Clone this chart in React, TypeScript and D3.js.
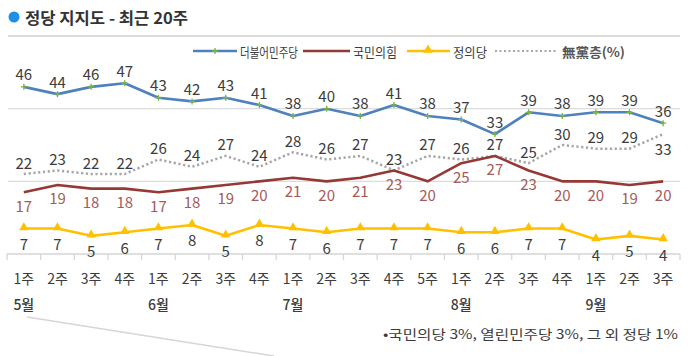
import React from "react";
import * as d3 from "d3";

const weeks = ["1주","2주","3주","4주","1주","2주","3주","4주","1주","2주","3주","4주","5주","1주","2주","3주","4주","1주","2주","3주"];
const monthLabels = ["5월", "6월", "7월", "8월", "9월"];
const monthStarts = [0, 4, 8, 13, 17];

const minjoo = [46,44,46,47,43,42,43,41,38,40,38,41,38,37,33,39,38,39,39,36];
const ppp = [17,19,18,18,17,18,19,20,21,20,21,23,20,25,27,23,20,20,19,20];
const justice = [7,7,5,6,7,8,5,8,7,6,7,7,7,6,6,7,7,4,5,4];
const independent = [22,23,22,22,26,24,27,24,28,26,27,23,27,26,27,25,30,29,29,33];

const gridValues = [20, 40, 60];
const seriesNames = ["더불어민주당", "국민의힘", "정의당", "無黨층(%)"];
const title = "정당 지지도 - 최근 20주";
const footnote = "•국민의당 3%, 열린민주당 3%, 그 외 정당 1%";

const FONT = "'Noto Sans CJK KR', 'Noto Sans', sans-serif";
const TXT = "#3c3c3c";
const BLUE = "#4f81bd";
const RED = "#963836";
const YEL = "#ffc000";
const GRAY = "#a6a6a6";
const GREEN = "#7cb342";

export default function App() {
  const W = 700, H = 356;
  const x = d3.scaleBand<number>().domain(d3.range(weeks.length)).range([7, 680]).padding(0);
  const cx = (i: number) => (x(i) as number) + x.bandwidth() / 2;
  const y = d3.scaleLinear().domain([0, 60]).range([254, 36]);
  const line = (vals: number[]) => d3.line<number>().x((_, i) => cx(i)).y((v) => y(v))(vals) as string;

  const tri = d3.symbol().type(d3.symbolTriangle).size(38)() as string;

  return (
    <svg width={W} height={H} style={{ position: "absolute", left: 0, top: 0, fontFamily: FONT }}>
      <rect width={W} height={H} fill="#fff" />
      {/* title */}
      <circle cx={14} cy={17} r={5.5} fill="#1e90e8" />
      <text x={25} y={17} dominantBaseline="central" fontSize={15.5} fontWeight="bold" fill="#333" textLength={163} lengthAdjust="spacingAndGlyphs">{title}</text>

      {/* gridlines */}
      {gridValues.map((g) => (
        <line key={g} x1={8} x2={680} y1={y(g)} y2={y(g)} stroke="#dcdcdc" strokeWidth={g === 60 ? 2 : 1.3} />
      ))}
      {/* axis */}
      <line x1={7} x2={680} y1={y(0)} y2={y(0)} stroke="#d4d4d4" strokeWidth={1.3} />
      {d3.range(weeks.length + 1).map((i) => {
        const xx = i < weeks.length ? (x(i) as number) : 680;
        return <line key={i} x1={xx} x2={xx} y1={y(0)} y2={y(0) + 6} stroke="#d4d4d4" strokeWidth={1.2} />;
      })}
      {weeks.map((w, i) => (
        <text key={i} x={cx(i)} y={278} textAnchor="middle" dominantBaseline="central" fontSize={14} fill={TXT}>{w}</text>
      ))}
      {monthLabels.map((m, k) => (
        <text key={m} x={cx(monthStarts[k])} y={304} textAnchor="middle" dominantBaseline="central" fontSize={14} fontWeight={500} fill={TXT}>{m}</text>
      ))}
      <line x1={27} y1={317} x2={274} y2={356} stroke="#d6d6d6" strokeWidth={1.5} />

      {/* legend */}
      <g fontSize={13} fill={TXT}>
        <line x1={193} x2={237} y1={51} y2={51} stroke={BLUE} strokeWidth={2.5} />
        <path d="M212,51h6M215,48v6" stroke={GREEN} strokeWidth={1.3} />
        <text x={240} y={51} dominantBaseline="central" textLength={58} lengthAdjust="spacingAndGlyphs">{seriesNames[0]}</text>
        <line x1={303} x2={350} y1={51} y2={51} stroke={RED} strokeWidth={2.5} />
        <text x={353} y={51} dominantBaseline="central" textLength={44} lengthAdjust="spacingAndGlyphs">{seriesNames[1]}</text>
        <line x1={407} x2={450} y1={51} y2={51} stroke={YEL} strokeWidth={2.5} />
        <path d={tri} transform="translate(428,50)" fill={YEL} />
        <text x={453} y={51} dominantBaseline="central" textLength={34} lengthAdjust="spacingAndGlyphs">{seriesNames[2]}</text>
        <line x1={495} x2={557} y1={51} y2={51} stroke={GRAY} strokeWidth={2} strokeDasharray="2 2.5" />
        <text x={562} y={51} dominantBaseline="central" fontWeight="bold" fill="#555" textLength={63} lengthAdjust="spacingAndGlyphs">{seriesNames[3]}</text>
      </g>

      {/* lines */}
      <path d={line(independent)} fill="none" stroke={GRAY} strokeWidth={2.5} strokeDasharray="2.2 2.6" />
      <path d={line(ppp)} fill="none" stroke={RED} strokeWidth={2.6} strokeLinejoin="round" />
      <path d={line(minjoo)} fill="none" stroke={BLUE} strokeWidth={2.6} strokeLinejoin="round" />
      <path d={line(justice)} fill="none" stroke={YEL} strokeWidth={2.6} strokeLinejoin="round" />

      {/* markers */}
      {minjoo.map((v, i) => (
        <path key={"m" + i} d={`M${cx(i) - 3},${y(v)}h6M${cx(i)},${y(v) - 3}v6`} stroke={GREEN} strokeWidth={1.3} />
      ))}
      {justice.map((v, i) => (
        <path key={"j" + i} d={tri} transform={`translate(${cx(i)},${y(v) - 1})`} fill={YEL} />
      ))}

      {/* labels */}
      <g fontSize={15} textAnchor="middle">
        {minjoo.map((v, i) => (
          <text key={"lm" + i} x={cx(i)} y={y(v) - 13} dominantBaseline="central" fill={TXT}>{v}</text>
        ))}
        {independent.map((v, i) => (
          <text key={"li" + i} x={cx(i)} y={i === independent.length - 1 ? y(v) + 14 : y(v) - 12} dominantBaseline="central" fill={TXT}>{v}</text>
        ))}
        {ppp.map((v, i) => (
          <text key={"lp" + i} x={cx(i)} y={y(v) + 13} dominantBaseline="central" fill="#a65a5a">{v}</text>
        ))}
        {justice.map((v, i) => (
          <text key={"lj" + i} x={cx(i)} y={y(v) + 15} dominantBaseline="central" fill={TXT}>{v}</text>
        ))}
      </g>

      <text x={383} y={333} dominantBaseline="central" fontSize={13} fill={TXT} textLength={295} lengthAdjust="spacingAndGlyphs">{footnote}</text>
    </svg>
  );
}
